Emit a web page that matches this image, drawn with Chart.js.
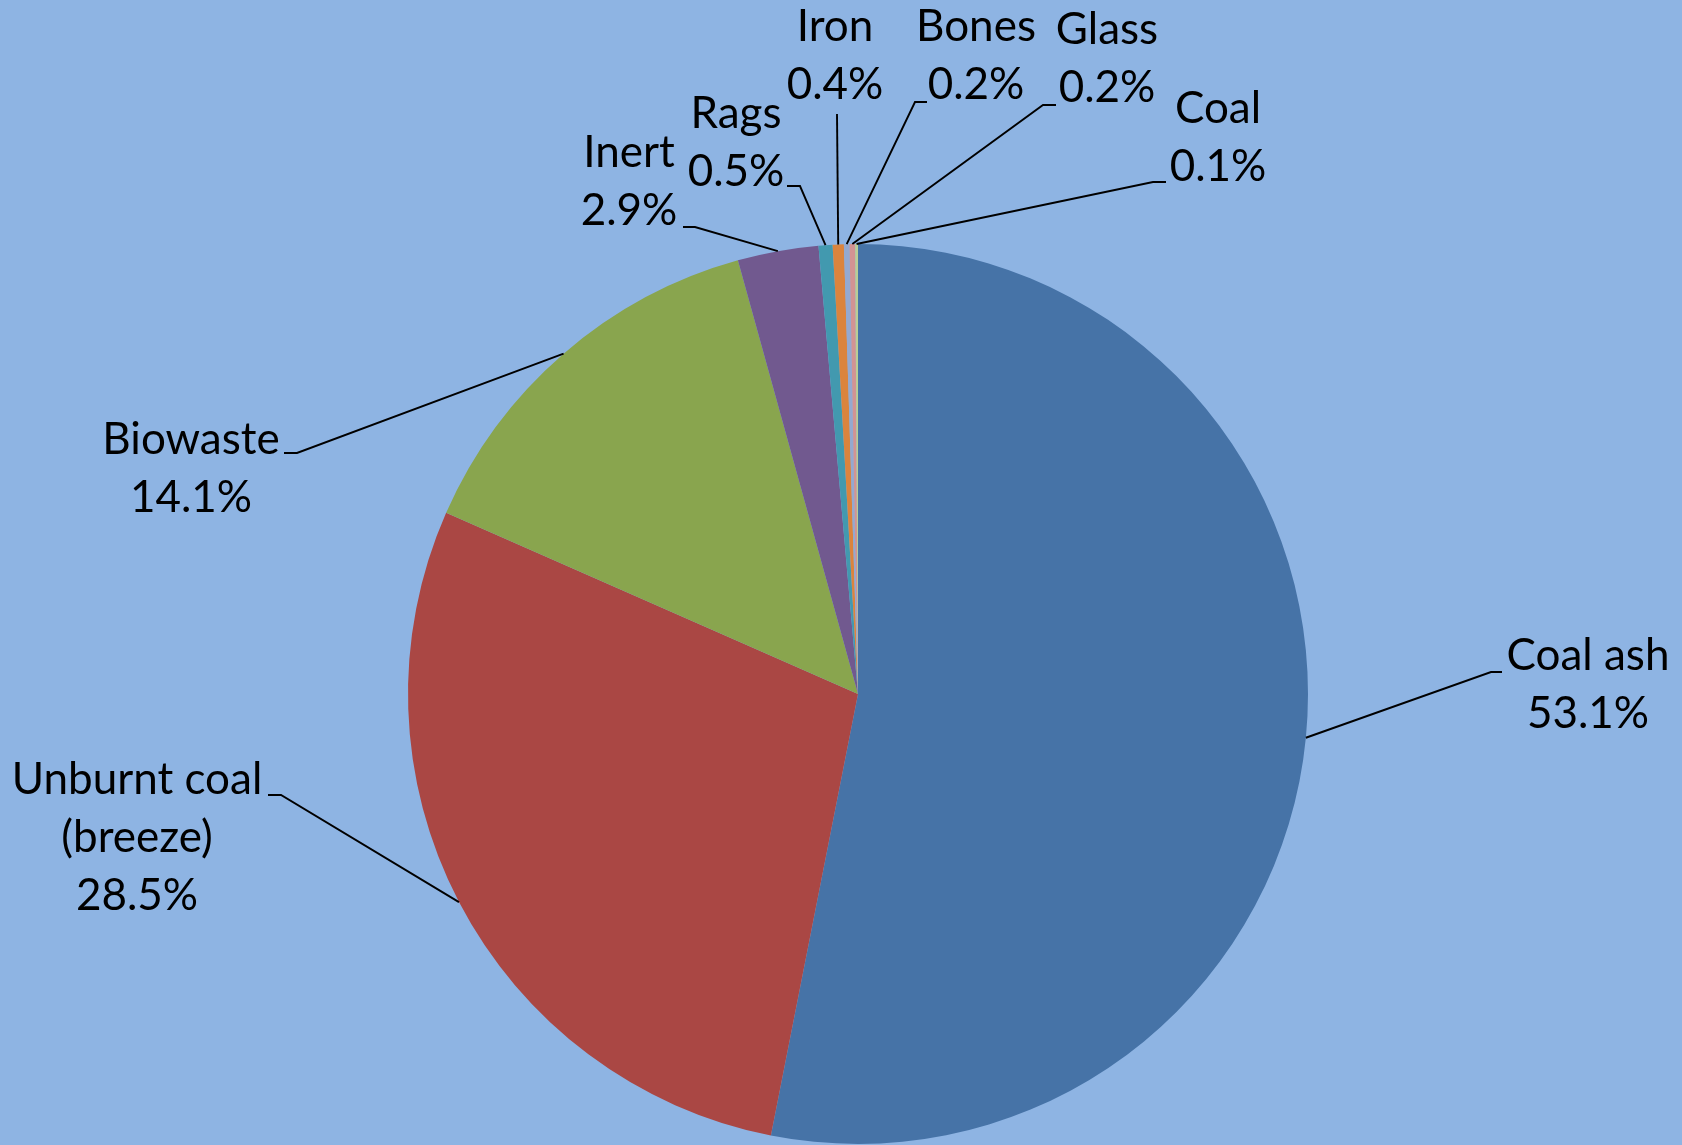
<!DOCTYPE html>
<html>
<head>
<meta charset="utf-8">
<script src="https://cdn.jsdelivr.net/npm/chart.js@4.4.1/dist/chart.umd.min.js"></script>
<style>
  html, body { margin: 0; padding: 0; background: #8EB4E3; }
  #wrap { width: 1682px; height: 1145px; }
</style>
</head>
<body>
<div id="wrap"><canvas id="pieChart" width="1682" height="1145"></canvas></div>
<script>
  // data
  var categories = ["Coal ash", "Unburnt coal (breeze)", "Biowaste", "Inert", "Rags", "Iron", "Bones", "Glass", "Coal"];
  var percentValues = [53.1, 28.5, 14.1, 2.9, 0.5, 0.4, 0.2, 0.2, 0.1];
  // how each label is broken into lines
  var labelLines = [["Coal ash"], ["Unburnt coal", "(breeze)"], ["Biowaste"], ["Inert"], ["Rags"], ["Iron"], ["Bones"], ["Glass"], ["Coal"]];

  var sliceColors = ['#4673A7', '#AA4744', '#89A54E', '#71598F', '#4299AF', '#DB843D', '#94A9D0', '#D29393', '#BACD96'];

  // label placement relative to pie centre: text centre (tx, ty of first line),
  // elbow point (ex, ey) where the leader meets the stub, stub length (sl, signed)
  var labelPos = [
    {tx: 730, ty: -38, ex: 633, ey: -22, sl: 11},
    {tx: -721, ty: 86, ex: -577, ey: 101, sl: -13},
    {tx: -667, ty: -254, ex: -561, ey: -241, sl: -13},
    {tx: -229, ty: -541, ex: -163, ey: -467, sl: -12},
    {tx: -122, ty: -580, ex: -58, ey: -508, sl: -13},
    {tx: -23, ty: -667, ex: -21, ey: -580, sl: 0},
    {tx: 118, ty: -667, ex: 57, ey: -592, sl: 12},
    {tx: 249, ty: -664, ex: 185, ey: -589, sl: 13},
    {tx: 360, ty: -585, ex: 295, ey: -512, sl: 13}
  ];
  var lineGap = 58;

  var labelPlugin = {
    id: 'leaderLabels',
    afterDatasetsDraw: function(chart) {
      var ctx = chart.ctx;
      var meta = chart.getDatasetMeta(0);
      ctx.save();
      ctx.font = '44px Lato';
      ctx.fillStyle = '#000';
      ctx.strokeStyle = '#000';
      ctx.lineWidth = 1.9;
      ctx.textAlign = 'center';
      ctx.textBaseline = 'middle';
      meta.data.forEach(function(arc, i) {
        var p = arc.getProps(['x', 'y', 'startAngle', 'endAngle', 'outerRadius'], true);
        var mid = (p.startAngle + p.endAngle) / 2;
        var ax = p.x + Math.cos(mid) * p.outerRadius;
        var ay = p.y + Math.sin(mid) * p.outerRadius;
        var lp = labelPos[i];
        // leader line
        ctx.beginPath();
        ctx.moveTo(ax, ay);
        ctx.lineTo(p.x + lp.ex, p.y + lp.ey);
        if (lp.sl != 0) ctx.lineTo(p.x + lp.ex + lp.sl, p.y + lp.ey);
        ctx.stroke();
        // text
        var lines = labelLines[i].concat([percentValues[i].toFixed(1) + '%']);
        for (var k = 0; k < lines.length; k++) {
          ctx.fillText(lines[k], p.x + lp.tx, p.y + lp.ty + k * lineGap);
        }
      });
      ctx.restore();
    }
  };

  var pieData = {
    labels: categories,
    datasets: [{
      data: percentValues,
      backgroundColor: sliceColors,
      borderWidth: 0,
      hoverOffset: 0
    }]
  };
  var pieOptions = {
    responsive: false,
    animation: false,
    radius: 450,
    layout: { padding: { top: 244, bottom: 1, left: 408, right: 374 } },
    plugins: {
      legend: { display: false },
      tooltip: { enabled: false }
    }
  };

  var ctx2 = document.getElementById("pieChart").getContext("2d");
  var chart = new Chart(ctx2, {type: 'pie', data: pieData, options: pieOptions, plugins: [labelPlugin]});
</script>
</body>
</html>
